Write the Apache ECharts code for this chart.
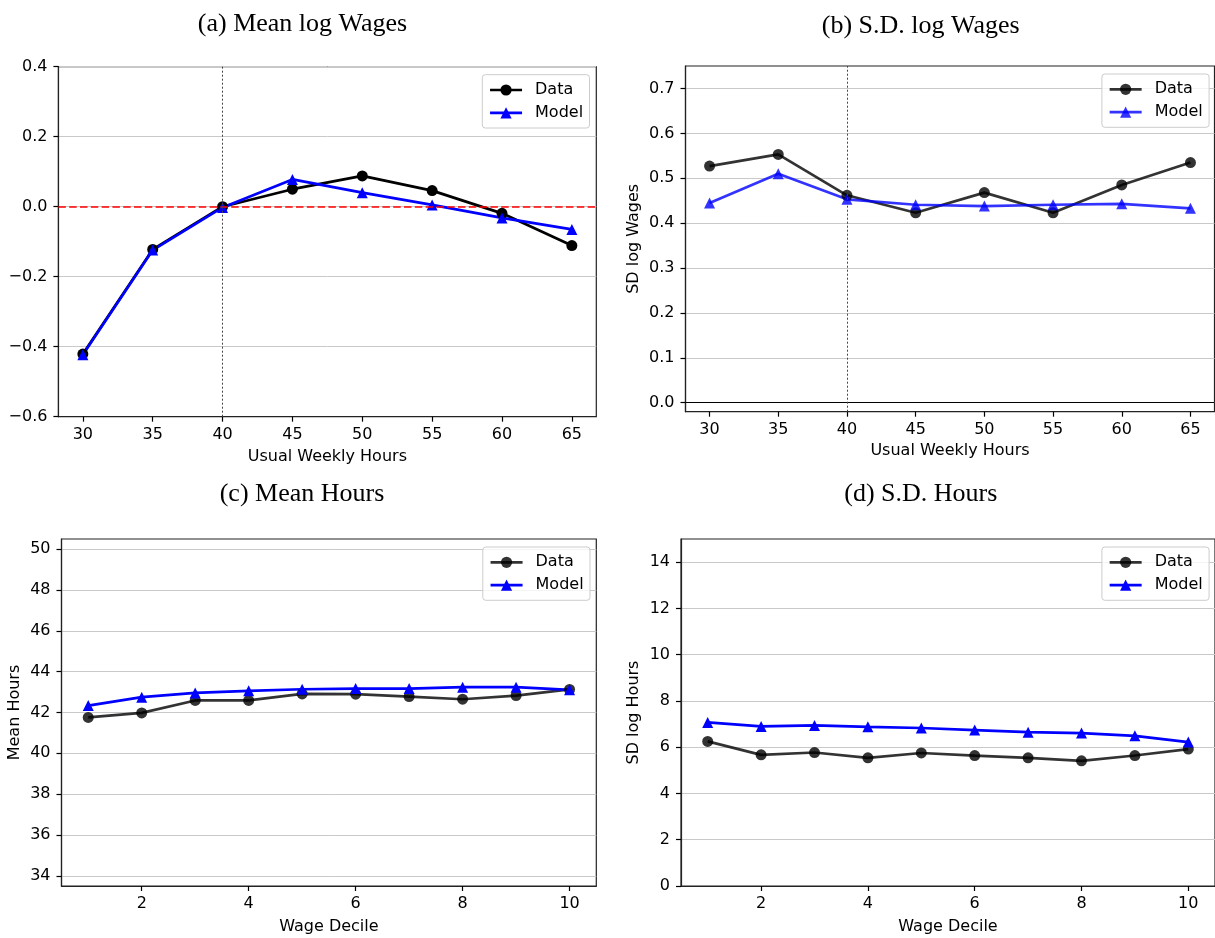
<!DOCTYPE html>
<html>
<head>
<meta charset="utf-8">
<title>Wages and Hours: Data vs Model</title>
<script src="https://cdn.jsdelivr.net/npm/echarts@6/dist/echarts.min.js"></script>
<style>
  html, body { margin: 0; padding: 0; background: #fff; }
  #chart { width: 1215px; height: 938px; }
</style>
</head>
<body>
<div id="chart"></div>
<script>
// ---- data ----
const hours = [30, 35, 40, 45, 50, 55, 60, 65];
const meanWageData  = [-0.421, -0.122, 0.000, 0.050, 0.088, 0.046, -0.019, -0.111];
const meanWageModel = [-0.423, -0.124, -0.002, 0.078, 0.040, 0.005, -0.032, -0.065];
const sdWageData  = [0.527, 0.553, 0.462, 0.423, 0.468, 0.423, 0.485, 0.535];
const sdWageModel = [0.445, 0.510, 0.453, 0.441, 0.438, 0.441, 0.443, 0.433];

const deciles = [1, 2, 3, 4, 5, 6, 7, 8, 9, 10];
const meanHoursData  = [41.76, 41.98, 42.59, 42.59, 42.91, 42.90, 42.78, 42.65, 42.83, 43.13];
const meanHoursModel = [42.34, 42.75, 42.96, 43.06, 43.14, 43.17, 43.17, 43.24, 43.24, 43.11];
const sdHoursData  = [6.25, 5.67, 5.77, 5.54, 5.75, 5.64, 5.54, 5.41, 5.64, 5.92];
const sdHoursModel = [7.07, 6.90, 6.94, 6.88, 6.83, 6.74, 6.65, 6.61, 6.49, 6.22];

// ---- tick labels ----
const hourTicks = [30, 35, 40, 45, 50, 55, 60, 65];
const decileTicks = [2, 4, 6, 8, 10];
const meanWageTicks = [-0.6, -0.4, -0.2, 0.0, 0.2, 0.4];
const sdWageTicks = [0.0, 0.1, 0.2, 0.3, 0.4, 0.5, 0.6, 0.7];
const meanHoursTicks = [34, 36, 38, 40, 42, 44, 46, 48, 50];
const sdHoursTicks = [0, 2, 4, 6, 8, 10, 12, 14];

const titles = ['(a) Mean log Wages', '(b) S.D. log Wages', '(c) Mean Hours', '(d) S.D. Hours'];

const SANS = 'DejaVu Sans';
const SERIF = 'Liberation Serif';
const SPINE = '#222';
const GRIDLINE = '#c9c9c9';

const fmt1 = v => v.toFixed(1).replace('-', '\u2212');
const fmt0 = v => String(Math.round(v));

const pairs = (xs, ys) => xs.map((x, i) => [x, ys[i]]);

function xAxisCfg(gi, min, max, ticks, name, nameGap, formatter) {
  return {
    type: 'value', gridIndex: gi, min: min, max: max,
    name: name, nameLocation: 'middle', nameGap: nameGap,
    nameTextStyle: { fontFamily: SANS, fontSize: 16, color: '#000' },
    axisLine: { show: true, onZero: false, lineStyle: { color: SPINE, width: 1.2 } },
    axisTick: { show: true, length: 5, customValues: ticks, lineStyle: { color: '#000', width: 1.2 } },
    axisLabel: { customValues: ticks, formatter: formatter, fontFamily: SANS, fontSize: 16, color: '#000', margin: 10 },
    splitLine: { show: false }
  };
}

function yAxisCfg(gi, min, max, ticks, name, nameGap, formatter) {
  return {
    type: 'value', gridIndex: gi, min: min, max: max,
    name: name, nameLocation: 'middle', nameGap: nameGap,
    nameTextStyle: { fontFamily: SANS, fontSize: 16, color: '#000' },
    axisLine: { show: true, onZero: false, lineStyle: { color: SPINE, width: 1.2 } },
    axisTick: { show: true, length: 5, customValues: ticks, lineStyle: { color: '#000', width: 1.2 } },
    axisLabel: { customValues: ticks, formatter: formatter, fontFamily: SANS, fontSize: 16, color: '#000', margin: 11 },
    splitLine: { show: true, lineStyle: { color: GRIDLINE, width: 1 } }
  };
}

function lineSeries(gi, name, data, color, symbol, extra) {
  return Object.assign({
    type: 'line', name: name, xAxisIndex: gi, yAxisIndex: gi, data: data,
    symbol: symbol, symbolSize: 11, showSymbol: true,
    lineStyle: { color: color, width: 2.7 },
    itemStyle: { color: color, borderWidth: 0 },
    emphasis: { disabled: true },
    animation: false
  }, extra || {});
}

function legendCfg(left, top, dataColor, modelColor) {
  return {
    orient: 'vertical', left: left, top: top,
    itemWidth: 32, itemHeight: 14, itemGap: 6.8,
    padding: [7.3, 6.4, 7.2, 6.4],
    borderColor: '#cccccc', borderWidth: 1, borderRadius: 3,
    backgroundColor: 'rgba(255,255,255,0.8)',
    textStyle: { fontFamily: SANS, fontSize: 16, color: '#000', padding: [0, 0, 0, 8] },
    selectedMode: false,
    data: [
      { name: 'Data', itemStyle: { color: dataColor }, lineStyle: { color: dataColor, width: 2.7 } },
      { name: 'Model', itemStyle: { color: modelColor }, lineStyle: { color: modelColor, width: 2.7 } }
    ]
  };
}

const gridBox = { show: true, borderColor: SPINE, borderWidth: 1.2, backgroundColor: 'transparent' };

const DARK = 'rgba(0,0,0,0.8)';
const BLUE_A = 'rgba(0,0,255,0.8)';

const vLine40 = { xAxis: 40, lineStyle: { type: [2, 2], color: '#444', width: 1 } };
const markCommon = { symbol: ['none', 'none'], silent: true, animation: false, label: { show: false }, emphasis: { disabled: true } };

const option = {
  backgroundColor: '#fff',
  animation: false,
  grid: [
    Object.assign({ left: 58.4, top: 66.7, width: 537.9, height: 350 }, gridBox),
    Object.assign({ left: 685.5, top: 66, width: 529, height: 345.7 }, gridBox),
    Object.assign({ left: 61.5, top: 539, width: 534.8, height: 347 }, gridBox),
    Object.assign({ left: 681, top: 539, width: 534, height: 347 }, gridBox)
  ],
  xAxis: [
    xAxisCfg(0, 28.25, 66.75, hourTicks, 'Usual Weekly Hours', 32, fmt0),
    xAxisCfg(1, 28.25, 66.75, hourTicks, 'Usual Weekly Hours', 31, fmt0),
    xAxisCfg(2, 0.5, 10.5, decileTicks, 'Wage Decile', 32.5, fmt0),
    xAxisCfg(3, 0.5, 10.5, decileTicks, 'Wage Decile', 32.5, fmt0)
  ],
  yAxis: [
    yAxisCfg(0, -0.6, 0.4, meanWageTicks, '', 40, fmt1),
    yAxisCfg(1, -0.02, 0.75, sdWageTicks, 'SD log Wages', 43.5, fmt1),
    yAxisCfg(2, 33.5, 50.5, meanHoursTicks, 'Mean Hours', 38.5, fmt0),
    yAxisCfg(3, 0, 15, sdHoursTicks, 'SD log Hours', 39, fmt0)
  ],
  legend: [
    legendCfg(482.3, 74.7, '#000', '#0000ff'),
    legendCfg(1101.9, 74, DARK, BLUE_A),
    legendCfg(482.8, 547, DARK, '#0000ff'),
    legendCfg(1101.9, 547, DARK, '#0000ff')
  ],
  series: [
    lineSeries(0, 'Data', pairs(hours, meanWageData), '#000', 'circle', {
      markLine: Object.assign({
        data: [
          { yAxis: 0, lineStyle: { type: [7.5, 3.3], color: '#ff0000', width: 1.5 } },
          vLine40
        ]
      }, markCommon)
    }),
    lineSeries(0, 'Model', pairs(hours, meanWageModel), '#0000ff', 'triangle'),

    lineSeries(1, 'Data', pairs(hours, sdWageData), DARK, 'circle', {
      markLine: Object.assign({
        data: [
          { yAxis: 0, lineStyle: { type: 'solid', color: '#000', width: 1.2 } },
          vLine40
        ]
      }, markCommon)
    }),
    lineSeries(1, 'Model', pairs(hours, sdWageModel), BLUE_A, 'triangle'),

    lineSeries(2, 'Data', pairs(deciles, meanHoursData), DARK, 'circle'),
    lineSeries(2, 'Model', pairs(deciles, meanHoursModel), '#0000ff', 'triangle'),

    lineSeries(3, 'Data', pairs(deciles, sdHoursData), DARK, 'circle'),
    lineSeries(3, 'Model', pairs(deciles, sdHoursModel), '#0000ff', 'triangle')
  ],
  graphic: [
    { type: 'text', style: { text: titles[0], x: 302.5, y: 24.5, align: 'center', verticalAlign: 'middle', font: '26px "' + SERIF + '"', fill: '#000' } },
    { type: 'text', style: { text: titles[1], x: 920.7, y: 26.2, align: 'center', verticalAlign: 'middle', font: '26px "' + SERIF + '"', fill: '#000' } },
    { type: 'text', style: { text: titles[2], x: 302, y: 494.2, align: 'center', verticalAlign: 'middle', font: '26px "' + SERIF + '"', fill: '#000' } },
    { type: 'text', style: { text: titles[3], x: 920.8, y: 494.2, align: 'center', verticalAlign: 'middle', font: '26px "' + SERIF + '"', fill: '#000' } }
  ]
};

const chart = echarts.init(document.getElementById('chart'), null, { renderer: 'canvas' });
chart.setOption(option);
</script>
</body>
</html>
